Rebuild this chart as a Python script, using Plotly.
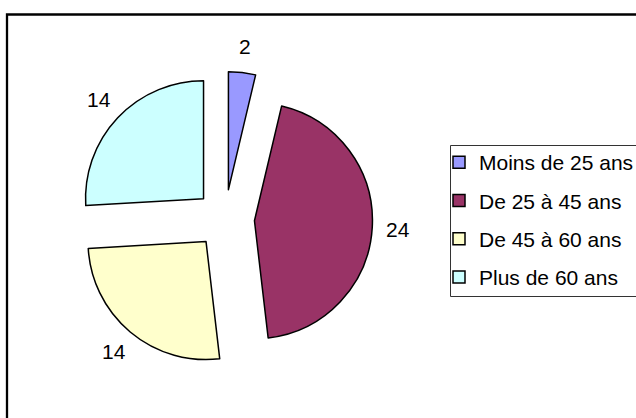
import math
import plotly.graph_objects as go

W, H = 636, 418

labels = ["Moins de 25 ans", "De 25 à 45 ans", "De 45 à 60 ans", "Plus de 60 ans"]
values = [2, 24, 14, 14]
colors = ["#9999FF", "#993366", "#FFFFCC", "#CCFFFF"]

FONT = "Liberation Sans, Arial, sans-serif"

# pie box in pixels (square), pull fraction
BX0, BX1, BY0, BY1 = 77.5, 372.5, 71.5, 366.5
PULL = 0.25


def px(x):
    return x / W


def py(y):
    return 1 - y / H


fig = go.Figure()

fig.add_trace(go.Pie(
    labels=labels,
    values=values,
    sort=False,
    direction="clockwise",
    rotation=0,
    pull=[PULL] * len(values),
    marker=dict(colors=colors, line=dict(color="black", width=1.5)),
    textinfo="none",
    domain=dict(x=[px(BX0), px(BX1)], y=[py(BY1), py(BY0)]),
    showlegend=False,
    hoverinfo="label+value",
))

# value labels placed outside each slice along its mid angle
cx, cy = (BX0 + BX1) / 2, (BY0 + BY1) / 2
r = (BX1 - BX0) / (2 * (1 + PULL))
total = sum(values)
acc = 0
annotations = []
for v in values:
    mid = (acc + v / 2) / total * 2 * math.pi
    acc += v
    lr = r * 1.47
    x = cx + lr * math.sin(mid)
    y = cy - lr * math.cos(mid)
    annotations.append(dict(
        x=px(x), y=py(y), xref="paper", yref="paper",
        text=str(v), showarrow=False, xanchor="center", yanchor="middle",
        font=dict(family=FONT, size=21, color="black"),
    ))

# legend entries
for i, (lab, col) in enumerate(zip(labels, colors)):
    fig.add_trace(go.Scatter(
        x=[None], y=[None], mode="markers", name=lab,
        legendgroup=f"g{i}",
        marker=dict(symbol="square", size=12, color=col,
                    line=dict(color="black", width=1.5)),
    ))

fig.update_layout(
    width=W, height=H,
    margin=dict(l=0, r=0, t=0, b=0, autoexpand=False),
    paper_bgcolor="white",
    plot_bgcolor="white",
    xaxis=dict(visible=False),
    yaxis=dict(visible=False),
    annotations=annotations,
    legend=dict(
        x=px(439), y=py(142), xanchor="left", yanchor="top",
        font=dict(family=FONT, size=21, color="black"),
        bgcolor="rgba(0,0,0,0)", borderwidth=0,
        tracegroupgap=8,
    ),
    shapes=[
        dict(type="rect", xref="paper", yref="paper",
             x0=px(7), x1=1.05, y0=-0.05, y1=py(14.5),
             line=dict(color="black", width=2.3), fillcolor="rgba(0,0,0,0)"),
        dict(type="rect", xref="paper", yref="paper",
             x0=px(450.5), x1=1.05, y0=py(296.5), y1=py(145.5),
             line=dict(color="#333333", width=1), fillcolor="rgba(0,0,0,0)"),
    ],
)

fig.write_html(
    "out.html",
    config={"displayModeBar": False},
    post_script="document.body.style.margin='0px';document.body.style.overflow='hidden';",
)
